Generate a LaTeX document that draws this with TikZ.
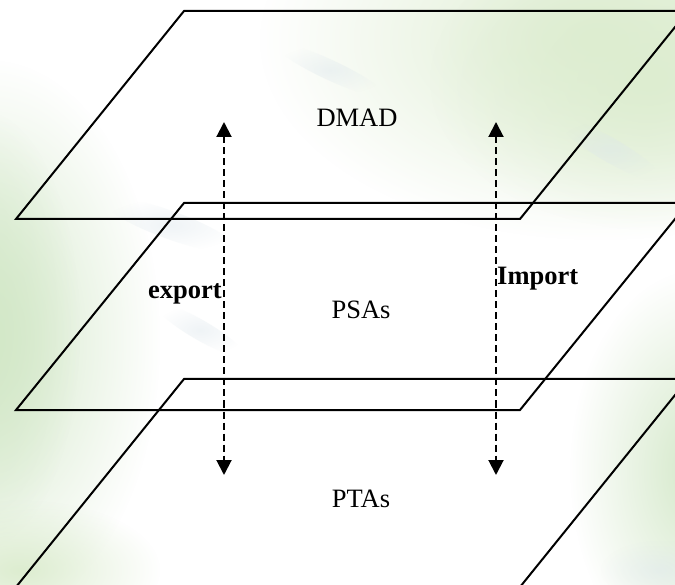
\documentclass[tikz,border=0pt]{standalone}
\usepackage{fontspec}
\setmainfont{Liberation Serif}
\usetikzlibrary{arrows.meta,fadings}
\tikzfading[name=softfade, inner color=transparent!0, outer color=transparent!100]
\definecolor{bggreen}{HTML}{D3E8C8}
\definecolor{bggreenb}{HTML}{DDEDD0}
\definecolor{bgblue}{HTML}{DCE6EC}
\tikzset{
  plane/.style={draw=black, line width=2pt, line join=miter},
  flow/.style={draw=black, line width=2pt, dash pattern=on 7pt off 4pt,
    {Triangle[width=15pt,length=15pt]}-{Triangle[width=15pt,length=15pt]}},
  layer/.style={font=\fontsize{26.5}{30}\selectfont, anchor=base, inner sep=0pt},
  side/.style={font=\fontsize{26.5}{30}\selectfont\bfseries, anchor=base west, inner sep=0pt},
  blob/.style={path fading=softfade},
  streak/.style={path fading=softfade, fill opacity=0.45}
}
\begin{document}
\begin{tikzpicture}[x=1pt,y=-1pt]
\useasboundingbox (0,0) rectangle (675,585);
\clip (0,0) rectangle (675,585);
% background
\fill[white] (0,0) rectangle (675,585);
\fill[bggreen, blob] (-10,340) ellipse (170 and 280);
\fill[bggreen, blob] (-20,330) ellipse (100 and 220);
\fill[bggreenb, blob] (600,40) ellipse (340 and 200);
\fill[bggreenb, blob] (650,80) ellipse (220 and 150);
\fill[bggreen, blob] (700,470) ellipse (130 and 200);
\fill[bggreenb, blob] (20,570) ellipse (140 and 70);
\fill[bgblue, streak, rotate around={-20:(170,225)}] (170,225) ellipse (70 and 14);
\fill[bgblue, streak, rotate around={-25:(330,70)}] (330,70) ellipse (60 and 10);
\fill[bgblue, streak, rotate around={-30:(610,150)}] (610,150) ellipse (60 and 12);
\fill[bgblue, streak, rotate around={-30:(200,330)}] (200,330) ellipse (50 and 10);
\fill[bgblue, streak] (660,570) ellipse (60 and 30);
% planes
\coordinate (t1) at (184,11);  \coordinate (t2) at (688,11);
\coordinate (t3) at (520,219); \coordinate (t4) at (16,219);
\coordinate (m1) at (184,203); \coordinate (m2) at (688,203);
\coordinate (m3) at (520,410); \coordinate (m4) at (16,410);
\coordinate (b1) at (184,379); \coordinate (b2) at (688,379);
\coordinate (b3) at (520,587); \coordinate (b4) at (16,587);
\draw[plane] (t1) -- (t2) -- (t3) -- (t4) -- cycle;
\draw[plane] (m1) -- (m2) -- (m3) -- (m4) -- cycle;
\draw[plane] (b1) -- (b2) -- (b3) -- (b4) -- cycle;
% labels
\node[layer] (dmad) at (357,127) {DMAD};
\node[layer] (psas) at (361,319) {PSAs};
\node[layer] (ptas) at (361,507) {PTAs};
\node[side] (export) at (148,298.5) {export};
\node[side] (import) at (497,285) {Import};
% arrows
\coordinate (eTop) at (224,122); \coordinate (eBot) at (224,475);
\coordinate (iTop) at (496,122); \coordinate (iBot) at (496,475);
\draw[flow] (eTop) -- (eBot);
\draw[flow] (iTop) -- (iBot);
\end{tikzpicture}
\end{document}
